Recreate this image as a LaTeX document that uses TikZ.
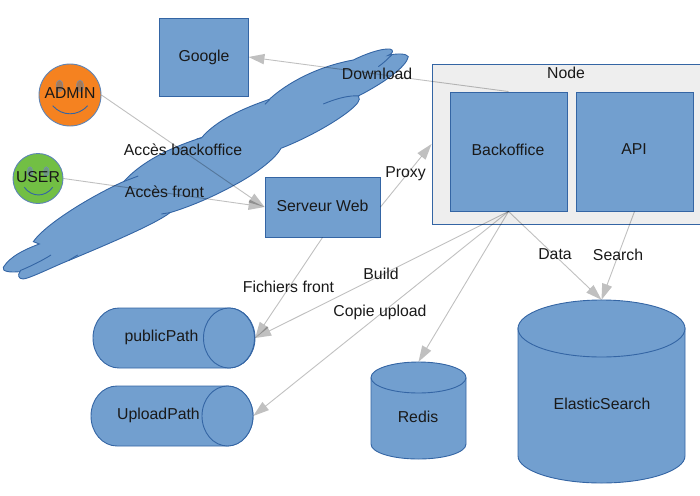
\documentclass[tikz,border=0pt]{standalone}
\usepackage{fontspec}
\setmainfont{Liberation Sans}
\usetikzlibrary{arrows.meta}
\definecolor{bluefill}{HTML}{729FCF}
\definecolor{bluedraw}{HTML}{3465A4}
\definecolor{linegrey}{HTML}{C0C0C0}
\definecolor{nodegrey}{HTML}{EEEEEE}
\definecolor{orangeface}{HTML}{F58220}
\definecolor{greenface}{HTML}{72BF44}
\definecolor{eyeorange}{HTML}{A87A55}
\definecolor{eyegreen}{HTML}{6F9A80}
\tikzset{
  shape fill/.style={fill=bluefill,draw=bluedraw,line width=0.9pt},
  boxnode/.style={shape fill,rectangle,inner sep=0pt},
  txt/.style={inner sep=0pt,font=\fontsize{15.8}{18}\selectfont,text=black!90},
  ghost/.style={rectangle,inner sep=0pt},
  face/.style={circle,inner sep=0pt,draw=bluedraw!80,line width=0.9pt},
  inner line/.style={bluedraw,line width=0.9pt},
  conn/.style={draw=linegrey,line width=0.9pt,blend mode=multiply,-{Triangle[length=16pt,width=10.5pt,line width=0pt,round]}},
}
\begin{document}
\begin{tikzpicture}[x=1pt,y=-1pt]
\useasboundingbox (0,0) rectangle (700,495);
% cloud
\begin{scope}[shift={(0,40)},x=0.3333pt,y=-0.3333pt]
\fill[shape fill] (10,682)
 .. controls (30,650) and (70,630) .. (118,612)
 -- (100,605)
 .. controls (130,560) and (250,480) .. (372,424)
 .. controls (430,360) and (520,320) .. (605,293)
 .. controls (650,240) and (730,205) .. (808,178)
 .. controls (860,130) and (950,80) .. (1060,60)
 .. controls (1090,45) and (1140,25) .. (1170,27)
 .. controls (1182,30) and (1180,40) .. (1165,46)
 .. controls (1190,40) and (1220,40) .. (1225,50)
 .. controls (1220,80) and (1150,130) .. (1075,168)
 .. controls (1085,180) and (1070,195) .. (1045,215)
 .. controls (1000,250) and (920,295) .. (843,325)
 .. controls (830,350) and (780,395) .. (700,437)
 .. controls (640,470) and (570,500) .. (510,518)
 .. controls (470,550) and (330,610) .. (205,662)
 .. controls (160,680) and (90,715) .. (70,717)
 .. controls (55,717) and (52,705) .. (60,695)
 .. controls (30,698) and (5,695) .. (10,682) -- cycle;
\draw[inner line] (60,692) .. controls (90,680) and (130,660) .. (153,645);
\draw[inner line] (205,662) -- (233,645);
\draw[inner line] (370,425) -- (415,408);
\draw[inner line] (484,522) -- (510,518);
\draw[inner line] (590,297) -- (605,293);
\draw[inner line] (795,193) -- (810,178);
\draw[inner line] (970,192) .. controls (1010,175) and (1050,165) .. (1078,168);
\draw[inner line] (1135,80) .. controls (1150,70) and (1165,55) .. (1175,45);
\end{scope}
% boxes
\node[boxnode,minimum width=89pt,minimum height=78pt] (google) at (203.5,57) {};
\node[rectangle,fill=nodegrey,draw=bluedraw,line width=0.9pt,minimum width=270pt,minimum height=160pt,inner sep=0pt] (nodebox) at (567,144) {};
\node[boxnode,minimum width=117pt,minimum height=119pt] (backoffice) at (508.5,151.5) {};
\node[boxnode,minimum width=117pt,minimum height=119pt] (api) at (634.5,151.5) {};
\node[boxnode,minimum width=115pt,minimum height=60pt] (serveur) at (322.5,207) {};
% faces
\node[face,fill=orangeface,minimum size=62pt] (admin) at (70,95) {};
\fill[eyeorange,draw=bluedraw!70] (59.5,86) ellipse [x radius=3.5,y radius=6];
\fill[eyeorange,draw=bluedraw!70] (80,86) ellipse [x radius=3.5,y radius=6];
\draw[inner line] (52.7,105.7) .. controls (62,116.5) and (78,116.5) .. (87.7,105.7);
\node[face,fill=greenface,minimum size=50pt] (user) at (38,178.5) {};
\fill[eyegreen,draw=bluedraw!70] (30,171.7) ellipse [x radius=2.8,y radius=5];
\fill[eyegreen,draw=bluedraw!70] (46.3,171.7) ellipse [x radius=2.8,y radius=5];
\draw[inner line] (24.3,187.3) .. controls (32,197.5) and (45,197.5) .. (52.7,187.3);
% horizontal cylinders
\fill[shape fill] (119,308) -- (229,308) .. controls (243.4,308) and (255,321.4) .. (255,338) .. controls (255,354.6) and (243.4,368) .. (229,368) -- (119,368) .. controls (104.6,368) and (93,354.6) .. (93,338) .. controls (93,321.4) and (104.6,308) .. (119,308) -- cycle;
\draw[shape fill] (229,338) ellipse [x radius=25.5,y radius=30];
\node[ghost,minimum width=162pt,minimum height=60pt] (public) at (174,338) {};
\fill[shape fill] (117,386) -- (227,386) .. controls (241.4,386) and (253,399.4) .. (253,416) .. controls (253,432.6) and (241.4,446) .. (227,446) -- (117,446) .. controls (102.6,446) and (91,432.6) .. (91,416) .. controls (91,399.4) and (102.6,386) .. (117,386) -- cycle;
\draw[shape fill] (227.5,416) ellipse [x radius=25.5,y radius=30];
\node[ghost,minimum width=162pt,minimum height=60pt] (upload) at (172,416) {};
% vertical cylinders
\fill[shape fill] (371,378) -- (371,444) .. controls (371,452.5) and (392,459) .. (418.5,459) .. controls (445,459) and (466,452.5) .. (466,444) -- (466,378) -- cycle;
\draw[shape fill] (418.5,377.5) ellipse [x radius=47.5,y radius=15.5];
\node[ghost,minimum width=95pt,minimum height=97pt] (redis) at (418.5,410.5) {};
\fill[shape fill] (518,328) -- (518,456) .. controls (518,470.5) and (555,483) .. (601.5,483) .. controls (648,483) and (685,470.5) .. (685,456) -- (685,328) -- cycle;
\draw[shape fill] (601.5,328.5) ellipse [x radius=83.5,y radius=28.5];
\node[ghost,minimum width=167pt,minimum height=183pt] (elastic) at (601.5,391.5) {};
% connectors
\draw[conn] (backoffice.north) -- (google.east);
\draw[conn] (admin.east) -- (serveur.west);
\draw[conn] (user.east) -- (serveur.west);
\draw[conn] (serveur.east) -- (nodebox.west);
\draw[conn] (serveur.south) -- (public.east);
\draw[conn] (backoffice.south) -- (public.east);
\draw[conn] (backoffice.south) -- (upload.east);
\draw[conn] (backoffice.south) -- (redis.north);
\draw[conn] (backoffice.south) -- (elastic.north);
\draw[conn] (api.south) -- (elastic.north);
% texts
\node[txt] (googlelbl) at (204,57) {Google};
\node[txt] (nodelbl) at (566,72.5) {Node};
\node[txt] (backofficelbl) at (508,149.5) {Backoffice};
\node[txt] (apilbl) at (634,149.5) {API};
\node[txt] (serveurlbl) at (322.5,205.5) {Serveur Web};
\node[txt] (adminlbl) at (70,93.5) {ADMIN};
\node[txt] (userlbl) at (38,177.5) {USER};
\node[txt] (publiclbl) at (161.5,337.5) {publicPath};
\node[txt] (uploadlbl) at (158.5,415) {UploadPath};
\node[txt] (redislbl) at (418,417) {Redis};
\node[txt] (elasticlbl) at (602,404) {ElasticSearch};
\node[txt] (l1) at (377,74) {Download};
\node[txt] (l2) at (183,149.5) {Accès backoffice};
\node[txt] (l3) at (164.5,191.5) {Accès front};
\node[txt] (l4) at (405.5,173.5) {Proxy};
\node[txt] (l5) at (288.5,286.5) {Fichiers front};
\node[txt] (l6) at (381,273.5) {Build};
\node[txt] (l7) at (380,312.5) {Copie upload};
\node[txt] (l8) at (555,254.5) {Data};
\node[txt] (l9) at (618,254.5) {Search};
\end{tikzpicture}
\end{document}
